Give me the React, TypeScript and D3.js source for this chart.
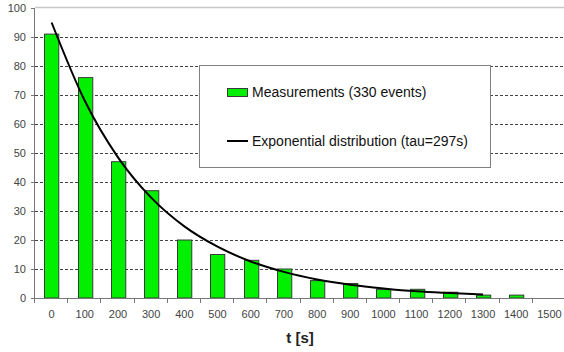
import { useEffect, useRef } from 'react'
import * as d3 from 'd3'

const categories = ['0', '100', '200', '300', '400', '500', '600', '700', '800', '900', '1000', '1100', '1200', '1300', '1400', '1500']
const measured = [91, 76, 47, 37, 20, 15, 13, 10, 6, 5, 3, 3, 2, 1, 1, 0]
// curve values at each category centre (0..1300)
const fitted = [95, 68, 48.5, 34.6, 24.7, 17.7, 12.6, 9, 6.4, 4.6, 3.3, 2.3, 1.7, 1.2]
const yTicks = [0, 10, 20, 30, 40, 50, 60, 70, 80, 90, 100]

const FONT = '"Liberation Sans", Arial, sans-serif'

export default function App() {
  const svgRef = useRef<SVGSVGElement>(null)

  useEffect(() => {
    if (!svgRef.current) return
    const svg = d3.select(svgRef.current)
    svg.selectAll('*').remove()

    const width = 564
    const height = 352
    const margin = { top: 8, right: -2, bottom: 54, left: 35 }
    const innerW = width - margin.left - margin.right
    const innerH = height - margin.top - margin.bottom

    svg.attr('width', width).attr('height', height)
    svg.append('rect').attr('width', width).attr('height', height).attr('fill', '#fff')
    const g = svg.append('g').attr('transform', `translate(${margin.left},${margin.top})`)

    const x = d3.scaleBand().domain(categories).range([0, innerW]).paddingInner(0.57).paddingOuter(0.285)
    const xb = d3.scaleBand().domain(categories).range([0, innerW])
    const y = d3.scaleLinear().domain([0, 100]).range([innerH, 0])

    // top border
    g.append('line')
      .attr('x1', 0).attr('x2', innerW).attr('y1', y(100) - 0.5).attr('y2', y(100) - 0.5)
      .attr('stroke', '#c8c8c8').attr('stroke-width', 1.5)

    // grid
    g.append('g')
      .selectAll('line')
      .data(yTicks.filter(t => t > 0 && t < 100))
      .join('line')
      .attr('x1', 0).attr('x2', innerW)
      .attr('y1', d => Math.round(y(d)) + 0.5).attr('y2', d => Math.round(y(d)) + 0.5)
      .attr('stroke', '#444').attr('stroke-dasharray', '3,2')

    // bars
    g.append('g')
      .selectAll('rect')
      .data(measured)
      .join('rect')
      .attr('x', (_, i) => Math.round(x(categories[i])!) + 0.5)
      .attr('y', d => y(d))
      .attr('width', x.bandwidth())
      .attr('height', d => innerH - y(d))
      .attr('fill', '#00f000')
      .attr('stroke', '#3a3a3a')
      .attr('stroke-width', d => (d > 0 ? 1 : 0))

    // fitted curve
    const line = d3.line<number>()
      .x((_, i) => xb(categories[i])! + xb.bandwidth() / 2)
      .y(d => y(d))
      .curve(d3.curveMonotoneX)
    g.append('path')
      .datum(fitted)
      .attr('d', line)
      .attr('fill', 'none')
      .attr('stroke', '#000')
      .attr('stroke-width', 2)

    // y axis
    g.append('g')
      .call(d3.axisLeft(y).tickValues(yTicks).tickSize(4).tickPadding(5))
      .call(a => a.select('.domain').attr('stroke', '#777').attr('d', `M-0.5,${innerH}V0`))
      .call(a => a.selectAll('.tick line').attr('stroke', '#777'))
      .call(a => a.selectAll('.tick text').attr('fill', '#444').attr('font-size', '11px').attr('font-family', FONT))

    // x axis
    const xa = g.append('g').attr('transform', `translate(0,${innerH})`)
    xa.append('line').attr('x1', 0).attr('x2', innerW).attr('y1', 0.5).attr('y2', 0.5).attr('stroke', '#777')
    xa.selectAll('line.tk')
      .data(categories)
      .join('line')
      .attr('class', 'tk')
      .attr('x1', d => Math.round(xb(d)!) - 0.5).attr('x2', d => Math.round(xb(d)!) - 0.5)
      .attr('y1', 0).attr('y2', 5)
      .attr('stroke', '#777')
    xa.selectAll('text')
      .data(categories)
      .join('text')
      .attr('x', d => xb(d)! + xb.bandwidth() / 2)
      .attr('y', 20)
      .attr('text-anchor', 'middle')
      .attr('fill', '#444')
      .attr('font-size', '11px')
      .attr('font-family', FONT)
      .text(d => d)

    svg.append('text')
      .attr('x', 300).attr('y', 343)
      .attr('text-anchor', 'middle')
      .attr('font-size', '15px')
      .attr('font-weight', 'bold')
      .attr('font-family', FONT)
      .attr('fill', '#222')
      .text('t [s]')

    // legend
    const lg = svg.append('g').attr('transform', 'translate(199,65)')
    lg.append('rect').attr('x', 0.5).attr('y', 0.5).attr('width', 291).attr('height', 102)
      .attr('fill', '#fff').attr('stroke', '#808080')
    lg.append('rect').attr('x', 28.5).attr('y', 23.5).attr('width', 20).attr('height', 8)
      .attr('fill', '#00f000').attr('stroke', '#3a3a3a')
    lg.append('text').attr('x', 53).attr('y', 32).attr('font-size', '14px').attr('font-family', FONT)
      .attr('fill', '#111').text('Measurements (330 events)')
    lg.append('line').attr('x1', 28).attr('x2', 49).attr('y1', 76).attr('y2', 76)
      .attr('stroke', '#000').attr('stroke-width', 2)
    lg.append('text').attr('x', 53).attr('y', 81).attr('font-size', '14px').attr('font-family', FONT)
      .attr('fill', '#111').text('Exponential distribution (tau=297s)')
  }, [])

  return <svg ref={svgRef} style={{ position: 'absolute', left: 0, top: 0 }} />
}
